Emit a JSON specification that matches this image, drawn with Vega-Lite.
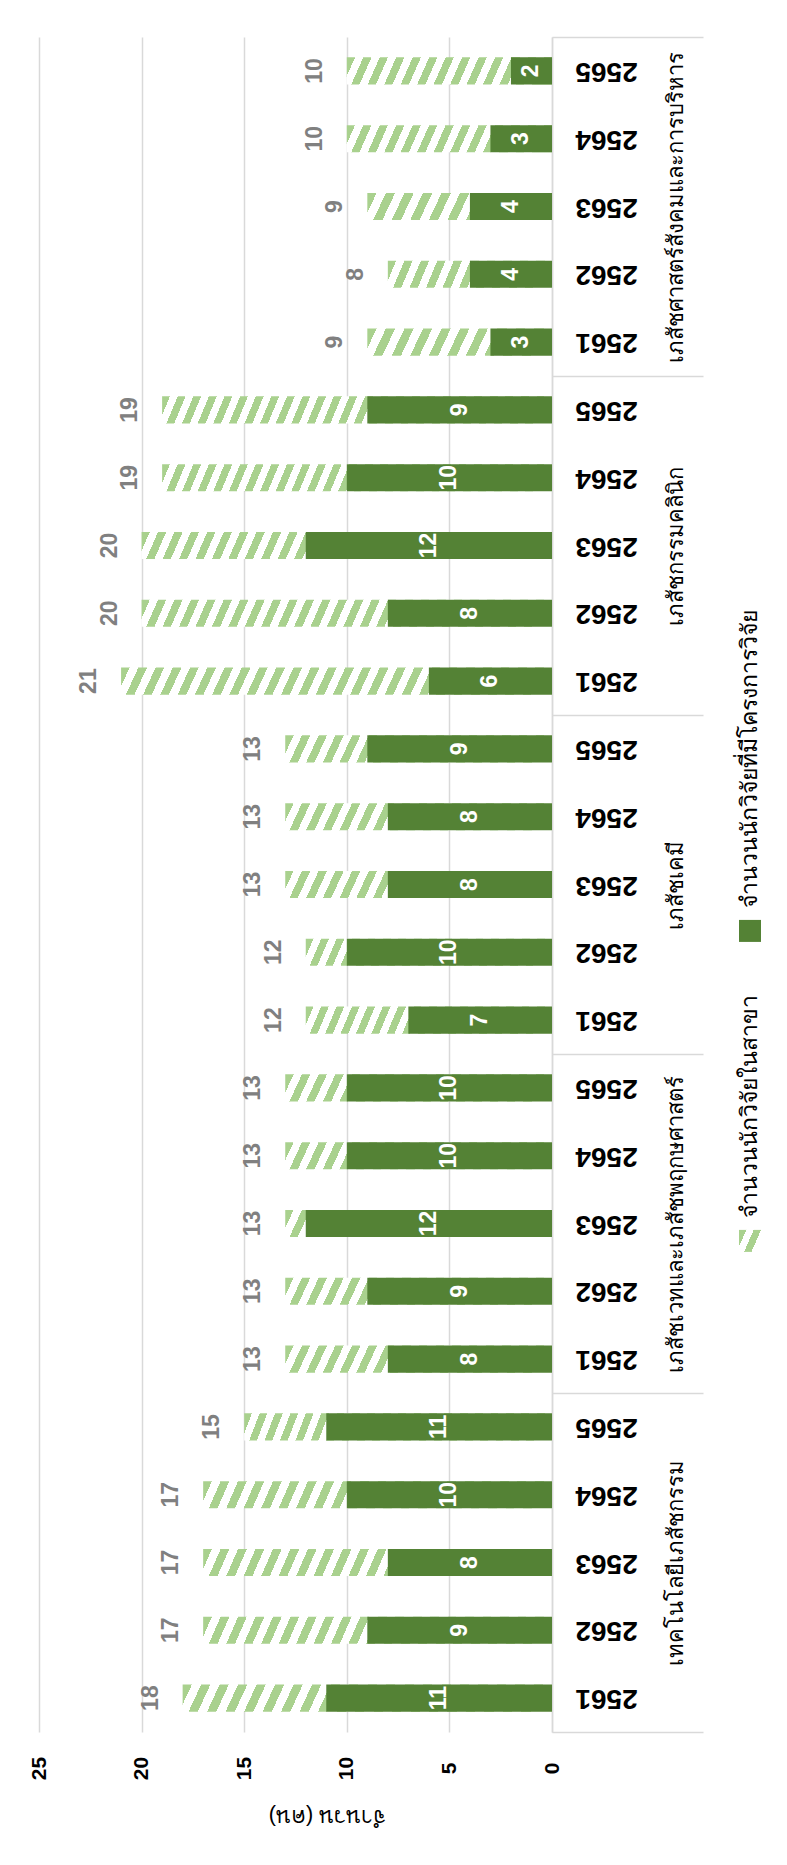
{
  "$schema": "https://vega.github.io/schema/vega-lite/v6.json",
  "background": "white",
  "padding": {"left": 27, "top": 36, "right": 0, "bottom": 30},
  "config": {"view": {"stroke": null}, "font": "Liberation Sans"},
  "spacing": 34,
  "hconcat": [
    {
      "width": 513,
      "height": 1695,
      "data": {
        "values": [
          {"key": "1|2561", "gi": 1, "group": "เทคโนโลยีเภสัชกรรม", "project": 11, "total": 18},
          {"key": "1|2562", "gi": 1, "group": "เทคโนโลยีเภสัชกรรม", "project": 9, "total": 17},
          {"key": "1|2563", "gi": 1, "group": "เทคโนโลยีเภสัชกรรม", "project": 8, "total": 17},
          {"key": "1|2564", "gi": 1, "group": "เทคโนโลยีเภสัชกรรม", "project": 10, "total": 17},
          {"key": "1|2565", "gi": 1, "group": "เทคโนโลยีเภสัชกรรม", "project": 11, "total": 15},
          {"key": "2|2561", "gi": 2, "group": "เภสัชเวทและเภสัชพฤกษศาสตร์", "project": 8, "total": 13},
          {"key": "2|2562", "gi": 2, "group": "เภสัชเวทและเภสัชพฤกษศาสตร์", "project": 9, "total": 13},
          {"key": "2|2563", "gi": 2, "group": "เภสัชเวทและเภสัชพฤกษศาสตร์", "project": 12, "total": 13},
          {"key": "2|2564", "gi": 2, "group": "เภสัชเวทและเภสัชพฤกษศาสตร์", "project": 10, "total": 13},
          {"key": "2|2565", "gi": 2, "group": "เภสัชเวทและเภสัชพฤกษศาสตร์", "project": 10, "total": 13},
          {"key": "3|2561", "gi": 3, "group": "เภสัชเคมี", "project": 7, "total": 12},
          {"key": "3|2562", "gi": 3, "group": "เภสัชเคมี", "project": 10, "total": 12},
          {"key": "3|2563", "gi": 3, "group": "เภสัชเคมี", "project": 8, "total": 13},
          {"key": "3|2564", "gi": 3, "group": "เภสัชเคมี", "project": 8, "total": 13},
          {"key": "3|2565", "gi": 3, "group": "เภสัชเคมี", "project": 9, "total": 13},
          {"key": "4|2561", "gi": 4, "group": "เภสัชกรรมคลินิก", "project": 6, "total": 21},
          {"key": "4|2562", "gi": 4, "group": "เภสัชกรรมคลินิก", "project": 8, "total": 20},
          {"key": "4|2563", "gi": 4, "group": "เภสัชกรรมคลินิก", "project": 12, "total": 20},
          {"key": "4|2564", "gi": 4, "group": "เภสัชกรรมคลินิก", "project": 10, "total": 19},
          {"key": "4|2565", "gi": 4, "group": "เภสัชกรรมคลินิก", "project": 9, "total": 19},
          {"key": "5|2561", "gi": 5, "group": "เภสัชศาสตร์สังคมและการบริหาร", "project": 3, "total": 9},
          {"key": "5|2562", "gi": 5, "group": "เภสัชศาสตร์สังคมและการบริหาร", "project": 4, "total": 8},
          {"key": "5|2563", "gi": 5, "group": "เภสัชศาสตร์สังคมและการบริหาร", "project": 4, "total": 9},
          {"key": "5|2564", "gi": 5, "group": "เภสัชศาสตร์สังคมและการบริหาร", "project": 3, "total": 10},
          {"key": "5|2565", "gi": 5, "group": "เภสัชศาสตร์สังคมและการบริหาร", "project": 2, "total": 10}
        ]
      },
      "transform": [{"calculate": "datum.project / 2", "as": "mid"}],
      "layer": [
        {
          "layer": [
            {
              "mark": {"type": "bar"},
              "encoding": {
                "y": {
                  "field": "key", "type": "nominal", "sort": "descending",
                  "scale": {"paddingInner": 0.6, "paddingOuter": 0.3},
                  "axis": {
                    "orient": "right", "title": null, "domain": true, "domainColor": "#d9d9d9", "domainWidth": 1.5,
                    "ticks": false, "tickSize": 0, "labelAngle": 180, "labelAlign": "center", "labelBaseline": "middle",
                    "labelPadding": 54, "labelFontSize": 28, "labelFontWeight": "bold", "labelColor": "#000000",
                    "labelExpr": "slice(datum.label, 2)", "labelOverlap": false, "grid": false
                  }
                },
                "x": {
                  "field": "total", "type": "quantitative", "title": "จำนวน (คน)",
                  "scale": {"domain": [0, 25], "reverse": true, "nice": false},
                  "axis": {
                    "orient": "bottom", "values": [0, 5, 10, 15, 20, 25], "grid": true, "gridColor": "#d9d9d9", "gridWidth": 1.5,
                    "domain": false, "ticks": false, "tickSize": 0, "labelAngle": 270, "labelAlign": "center", "labelBaseline": "middle",
                    "labelPadding": 36, "labelFontSize": 21, "labelFontWeight": "bold", "labelColor": "#000000",
                    "titleAngle": 180, "titleFontSize": 22, "titleFontWeight": "normal", "titleColor": "#000000",
                    "titleBaseline": "middle", "titleAlign": "center", "titleX": 288, "titleY": 84, "titleFont": "sans-serif"
                  }
                },
                "fill": {
                  "condition": [
                    {"test": "datum.total <= 9", "value": {"gradient": "linear", "x1": 0, "y1": 0, "x2": 1, "y2": 0.069, "stops": [
                      {"offset": 0, "color": "#a9d18e"}, {"offset": 0.05, "color": "#a9d18e"}, {"offset": 0.05, "color": "#ffffff"}, {"offset": 0.1, "color": "#ffffff"},
                      {"offset": 0.1, "color": "#a9d18e"}, {"offset": 0.15, "color": "#a9d18e"}, {"offset": 0.15, "color": "#ffffff"}, {"offset": 0.2, "color": "#ffffff"},
                      {"offset": 0.2, "color": "#a9d18e"}, {"offset": 0.25, "color": "#a9d18e"}, {"offset": 0.25, "color": "#ffffff"}, {"offset": 0.3, "color": "#ffffff"},
                      {"offset": 0.3, "color": "#a9d18e"}, {"offset": 0.35, "color": "#a9d18e"}, {"offset": 0.35, "color": "#ffffff"}, {"offset": 0.4, "color": "#ffffff"},
                      {"offset": 0.4, "color": "#a9d18e"}, {"offset": 0.45, "color": "#a9d18e"}, {"offset": 0.45, "color": "#ffffff"}, {"offset": 0.5, "color": "#ffffff"},
                      {"offset": 0.5, "color": "#a9d18e"}, {"offset": 0.55, "color": "#a9d18e"}, {"offset": 0.55, "color": "#ffffff"}, {"offset": 0.6, "color": "#ffffff"},
                      {"offset": 0.6, "color": "#a9d18e"}, {"offset": 0.65, "color": "#a9d18e"}, {"offset": 0.65, "color": "#ffffff"}, {"offset": 0.7, "color": "#ffffff"},
                      {"offset": 0.7, "color": "#a9d18e"}, {"offset": 0.75, "color": "#a9d18e"}, {"offset": 0.75, "color": "#ffffff"}, {"offset": 0.8, "color": "#ffffff"},
                      {"offset": 0.8, "color": "#a9d18e"}, {"offset": 0.85, "color": "#a9d18e"}, {"offset": 0.85, "color": "#ffffff"}, {"offset": 0.9, "color": "#ffffff"},
                      {"offset": 0.9, "color": "#a9d18e"}, {"offset": 0.95, "color": "#a9d18e"}, {"offset": 0.95, "color": "#ffffff"}, {"offset": 1, "color": "#ffffff"}
                    ]}},
                    {"test": "datum.total == 10", "value": {"gradient": "linear", "x1": 0, "y1": 0, "x2": 1, "y2": 0.0585, "stops": [
                      {"offset": 0, "color": "#a9d18e"}, {"offset": 0.04, "color": "#a9d18e"}, {"offset": 0.04, "color": "#ffffff"}, {"offset": 0.08, "color": "#ffffff"},
                      {"offset": 0.08, "color": "#a9d18e"}, {"offset": 0.12, "color": "#a9d18e"}, {"offset": 0.12, "color": "#ffffff"}, {"offset": 0.16, "color": "#ffffff"},
                      {"offset": 0.16, "color": "#a9d18e"}, {"offset": 0.2, "color": "#a9d18e"}, {"offset": 0.2, "color": "#ffffff"}, {"offset": 0.24, "color": "#ffffff"},
                      {"offset": 0.24, "color": "#a9d18e"}, {"offset": 0.28, "color": "#a9d18e"}, {"offset": 0.28, "color": "#ffffff"}, {"offset": 0.32, "color": "#ffffff"},
                      {"offset": 0.32, "color": "#a9d18e"}, {"offset": 0.36, "color": "#a9d18e"}, {"offset": 0.36, "color": "#ffffff"}, {"offset": 0.4, "color": "#ffffff"},
                      {"offset": 0.4, "color": "#a9d18e"}, {"offset": 0.44, "color": "#a9d18e"}, {"offset": 0.44, "color": "#ffffff"}, {"offset": 0.48, "color": "#ffffff"},
                      {"offset": 0.48, "color": "#a9d18e"}, {"offset": 0.52, "color": "#a9d18e"}, {"offset": 0.52, "color": "#ffffff"}, {"offset": 0.56, "color": "#ffffff"},
                      {"offset": 0.56, "color": "#a9d18e"}, {"offset": 0.6, "color": "#a9d18e"}, {"offset": 0.6, "color": "#ffffff"}, {"offset": 0.64, "color": "#ffffff"},
                      {"offset": 0.64, "color": "#a9d18e"}, {"offset": 0.68, "color": "#a9d18e"}, {"offset": 0.68, "color": "#ffffff"}, {"offset": 0.72, "color": "#ffffff"},
                      {"offset": 0.72, "color": "#a9d18e"}, {"offset": 0.76, "color": "#a9d18e"}, {"offset": 0.76, "color": "#ffffff"}, {"offset": 0.8, "color": "#ffffff"},
                      {"offset": 0.8, "color": "#a9d18e"}, {"offset": 0.84, "color": "#a9d18e"}, {"offset": 0.84, "color": "#ffffff"}, {"offset": 0.88, "color": "#ffffff"},
                      {"offset": 0.88, "color": "#a9d18e"}, {"offset": 0.92, "color": "#a9d18e"}, {"offset": 0.92, "color": "#ffffff"}, {"offset": 0.96, "color": "#ffffff"},
                      {"offset": 0.96, "color": "#a9d18e"}, {"offset": 1, "color": "#a9d18e"}
                    ]}},
                    {"test": "datum.total <= 13", "value": {"gradient": "linear", "x1": 0, "y1": 0, "x2": 1, "y2": 0.047, "stops": [
                      {"offset": 0, "color": "#a9d18e"}, {"offset": 0.03125, "color": "#a9d18e"}, {"offset": 0.03125, "color": "#ffffff"}, {"offset": 0.0625, "color": "#ffffff"},
                      {"offset": 0.0625, "color": "#a9d18e"}, {"offset": 0.09375, "color": "#a9d18e"}, {"offset": 0.09375, "color": "#ffffff"}, {"offset": 0.125, "color": "#ffffff"},
                      {"offset": 0.125, "color": "#a9d18e"}, {"offset": 0.15625, "color": "#a9d18e"}, {"offset": 0.15625, "color": "#ffffff"}, {"offset": 0.1875, "color": "#ffffff"},
                      {"offset": 0.1875, "color": "#a9d18e"}, {"offset": 0.21875, "color": "#a9d18e"}, {"offset": 0.21875, "color": "#ffffff"}, {"offset": 0.25, "color": "#ffffff"},
                      {"offset": 0.25, "color": "#a9d18e"}, {"offset": 0.28125, "color": "#a9d18e"}, {"offset": 0.28125, "color": "#ffffff"}, {"offset": 0.3125, "color": "#ffffff"},
                      {"offset": 0.3125, "color": "#a9d18e"}, {"offset": 0.34375, "color": "#a9d18e"}, {"offset": 0.34375, "color": "#ffffff"}, {"offset": 0.375, "color": "#ffffff"},
                      {"offset": 0.375, "color": "#a9d18e"}, {"offset": 0.40625, "color": "#a9d18e"}, {"offset": 0.40625, "color": "#ffffff"}, {"offset": 0.4375, "color": "#ffffff"},
                      {"offset": 0.4375, "color": "#a9d18e"}, {"offset": 0.46875, "color": "#a9d18e"}, {"offset": 0.46875, "color": "#ffffff"}, {"offset": 0.5, "color": "#ffffff"},
                      {"offset": 0.5, "color": "#a9d18e"}, {"offset": 0.53125, "color": "#a9d18e"}, {"offset": 0.53125, "color": "#ffffff"}, {"offset": 0.5625, "color": "#ffffff"},
                      {"offset": 0.5625, "color": "#a9d18e"}, {"offset": 0.59375, "color": "#a9d18e"}, {"offset": 0.59375, "color": "#ffffff"}, {"offset": 0.625, "color": "#ffffff"},
                      {"offset": 0.625, "color": "#a9d18e"}, {"offset": 0.65625, "color": "#a9d18e"}, {"offset": 0.65625, "color": "#ffffff"}, {"offset": 0.6875, "color": "#ffffff"},
                      {"offset": 0.6875, "color": "#a9d18e"}, {"offset": 0.71875, "color": "#a9d18e"}, {"offset": 0.71875, "color": "#ffffff"}, {"offset": 0.75, "color": "#ffffff"},
                      {"offset": 0.75, "color": "#a9d18e"}, {"offset": 0.78125, "color": "#a9d18e"}, {"offset": 0.78125, "color": "#ffffff"}, {"offset": 0.8125, "color": "#ffffff"},
                      {"offset": 0.8125, "color": "#a9d18e"}, {"offset": 0.84375, "color": "#a9d18e"}, {"offset": 0.84375, "color": "#ffffff"}, {"offset": 0.875, "color": "#ffffff"},
                      {"offset": 0.875, "color": "#a9d18e"}, {"offset": 0.90625, "color": "#a9d18e"}, {"offset": 0.90625, "color": "#ffffff"}, {"offset": 0.9375, "color": "#ffffff"},
                      {"offset": 0.9375, "color": "#a9d18e"}, {"offset": 0.96875, "color": "#a9d18e"}, {"offset": 0.96875, "color": "#ffffff"}, {"offset": 1, "color": "#ffffff"}
                    ]}},
                    {"test": "datum.total <= 18", "value": {"gradient": "linear", "x1": 0, "y1": 0, "x2": 1, "y2": 0.034, "stops": [
                      {"offset": 0, "color": "#a9d18e"}, {"offset": 0.025, "color": "#a9d18e"}, {"offset": 0.025, "color": "#ffffff"}, {"offset": 0.05, "color": "#ffffff"},
                      {"offset": 0.05, "color": "#a9d18e"}, {"offset": 0.075, "color": "#a9d18e"}, {"offset": 0.075, "color": "#ffffff"}, {"offset": 0.1, "color": "#ffffff"},
                      {"offset": 0.1, "color": "#a9d18e"}, {"offset": 0.125, "color": "#a9d18e"}, {"offset": 0.125, "color": "#ffffff"}, {"offset": 0.15, "color": "#ffffff"},
                      {"offset": 0.15, "color": "#a9d18e"}, {"offset": 0.175, "color": "#a9d18e"}, {"offset": 0.175, "color": "#ffffff"}, {"offset": 0.2, "color": "#ffffff"},
                      {"offset": 0.2, "color": "#a9d18e"}, {"offset": 0.225, "color": "#a9d18e"}, {"offset": 0.225, "color": "#ffffff"}, {"offset": 0.25, "color": "#ffffff"},
                      {"offset": 0.25, "color": "#a9d18e"}, {"offset": 0.275, "color": "#a9d18e"}, {"offset": 0.275, "color": "#ffffff"}, {"offset": 0.3, "color": "#ffffff"},
                      {"offset": 0.3, "color": "#a9d18e"}, {"offset": 0.325, "color": "#a9d18e"}, {"offset": 0.325, "color": "#ffffff"}, {"offset": 0.35, "color": "#ffffff"},
                      {"offset": 0.35, "color": "#a9d18e"}, {"offset": 0.375, "color": "#a9d18e"}, {"offset": 0.375, "color": "#ffffff"}, {"offset": 0.4, "color": "#ffffff"},
                      {"offset": 0.4, "color": "#a9d18e"}, {"offset": 0.425, "color": "#a9d18e"}, {"offset": 0.425, "color": "#ffffff"}, {"offset": 0.45, "color": "#ffffff"},
                      {"offset": 0.45, "color": "#a9d18e"}, {"offset": 0.475, "color": "#a9d18e"}, {"offset": 0.475, "color": "#ffffff"}, {"offset": 0.5, "color": "#ffffff"},
                      {"offset": 0.5, "color": "#a9d18e"}, {"offset": 0.525, "color": "#a9d18e"}, {"offset": 0.525, "color": "#ffffff"}, {"offset": 0.55, "color": "#ffffff"},
                      {"offset": 0.55, "color": "#a9d18e"}, {"offset": 0.575, "color": "#a9d18e"}, {"offset": 0.575, "color": "#ffffff"}, {"offset": 0.6, "color": "#ffffff"},
                      {"offset": 0.6, "color": "#a9d18e"}, {"offset": 0.625, "color": "#a9d18e"}, {"offset": 0.625, "color": "#ffffff"}, {"offset": 0.65, "color": "#ffffff"},
                      {"offset": 0.65, "color": "#a9d18e"}, {"offset": 0.675, "color": "#a9d18e"}, {"offset": 0.675, "color": "#ffffff"}, {"offset": 0.7, "color": "#ffffff"},
                      {"offset": 0.7, "color": "#a9d18e"}, {"offset": 0.725, "color": "#a9d18e"}, {"offset": 0.725, "color": "#ffffff"}, {"offset": 0.75, "color": "#ffffff"},
                      {"offset": 0.75, "color": "#a9d18e"}, {"offset": 0.775, "color": "#a9d18e"}, {"offset": 0.775, "color": "#ffffff"}, {"offset": 0.8, "color": "#ffffff"},
                      {"offset": 0.8, "color": "#a9d18e"}, {"offset": 0.825, "color": "#a9d18e"}, {"offset": 0.825, "color": "#ffffff"}, {"offset": 0.85, "color": "#ffffff"},
                      {"offset": 0.85, "color": "#a9d18e"}, {"offset": 0.875, "color": "#a9d18e"}, {"offset": 0.875, "color": "#ffffff"}, {"offset": 0.9, "color": "#ffffff"},
                      {"offset": 0.9, "color": "#a9d18e"}, {"offset": 0.925, "color": "#a9d18e"}, {"offset": 0.925, "color": "#ffffff"}, {"offset": 0.95, "color": "#ffffff"},
                      {"offset": 0.95, "color": "#a9d18e"}, {"offset": 0.975, "color": "#a9d18e"}, {"offset": 0.975, "color": "#ffffff"}, {"offset": 1, "color": "#ffffff"}
                    ]}}
                  ],
                  "value": {"gradient": "linear", "x1": 0, "y1": 0, "x2": 1, "y2": 0.029, "stops": [
                    {"offset": 0, "color": "#a9d18e"}, {"offset": 0.02, "color": "#a9d18e"}, {"offset": 0.02, "color": "#ffffff"}, {"offset": 0.04, "color": "#ffffff"},
                    {"offset": 0.04, "color": "#a9d18e"}, {"offset": 0.06, "color": "#a9d18e"}, {"offset": 0.06, "color": "#ffffff"}, {"offset": 0.08, "color": "#ffffff"},
                    {"offset": 0.08, "color": "#a9d18e"}, {"offset": 0.1, "color": "#a9d18e"}, {"offset": 0.1, "color": "#ffffff"}, {"offset": 0.12, "color": "#ffffff"},
                    {"offset": 0.12, "color": "#a9d18e"}, {"offset": 0.14, "color": "#a9d18e"}, {"offset": 0.14, "color": "#ffffff"}, {"offset": 0.16, "color": "#ffffff"},
                    {"offset": 0.16, "color": "#a9d18e"}, {"offset": 0.18, "color": "#a9d18e"}, {"offset": 0.18, "color": "#ffffff"}, {"offset": 0.2, "color": "#ffffff"},
                    {"offset": 0.2, "color": "#a9d18e"}, {"offset": 0.22, "color": "#a9d18e"}, {"offset": 0.22, "color": "#ffffff"}, {"offset": 0.24, "color": "#ffffff"},
                    {"offset": 0.24, "color": "#a9d18e"}, {"offset": 0.26, "color": "#a9d18e"}, {"offset": 0.26, "color": "#ffffff"}, {"offset": 0.28, "color": "#ffffff"},
                    {"offset": 0.28, "color": "#a9d18e"}, {"offset": 0.3, "color": "#a9d18e"}, {"offset": 0.3, "color": "#ffffff"}, {"offset": 0.32, "color": "#ffffff"},
                    {"offset": 0.32, "color": "#a9d18e"}, {"offset": 0.34, "color": "#a9d18e"}, {"offset": 0.34, "color": "#ffffff"}, {"offset": 0.36, "color": "#ffffff"},
                    {"offset": 0.36, "color": "#a9d18e"}, {"offset": 0.38, "color": "#a9d18e"}, {"offset": 0.38, "color": "#ffffff"}, {"offset": 0.4, "color": "#ffffff"},
                    {"offset": 0.4, "color": "#a9d18e"}, {"offset": 0.42, "color": "#a9d18e"}, {"offset": 0.42, "color": "#ffffff"}, {"offset": 0.44, "color": "#ffffff"},
                    {"offset": 0.44, "color": "#a9d18e"}, {"offset": 0.46, "color": "#a9d18e"}, {"offset": 0.46, "color": "#ffffff"}, {"offset": 0.48, "color": "#ffffff"},
                    {"offset": 0.48, "color": "#a9d18e"}, {"offset": 0.5, "color": "#a9d18e"}, {"offset": 0.5, "color": "#ffffff"}, {"offset": 0.52, "color": "#ffffff"},
                    {"offset": 0.52, "color": "#a9d18e"}, {"offset": 0.54, "color": "#a9d18e"}, {"offset": 0.54, "color": "#ffffff"}, {"offset": 0.56, "color": "#ffffff"},
                    {"offset": 0.56, "color": "#a9d18e"}, {"offset": 0.58, "color": "#a9d18e"}, {"offset": 0.58, "color": "#ffffff"}, {"offset": 0.6, "color": "#ffffff"},
                    {"offset": 0.6, "color": "#a9d18e"}, {"offset": 0.62, "color": "#a9d18e"}, {"offset": 0.62, "color": "#ffffff"}, {"offset": 0.64, "color": "#ffffff"},
                    {"offset": 0.64, "color": "#a9d18e"}, {"offset": 0.66, "color": "#a9d18e"}, {"offset": 0.66, "color": "#ffffff"}, {"offset": 0.68, "color": "#ffffff"},
                    {"offset": 0.68, "color": "#a9d18e"}, {"offset": 0.7, "color": "#a9d18e"}, {"offset": 0.7, "color": "#ffffff"}, {"offset": 0.72, "color": "#ffffff"},
                    {"offset": 0.72, "color": "#a9d18e"}, {"offset": 0.74, "color": "#a9d18e"}, {"offset": 0.74, "color": "#ffffff"}, {"offset": 0.76, "color": "#ffffff"},
                    {"offset": 0.76, "color": "#a9d18e"}, {"offset": 0.78, "color": "#a9d18e"}, {"offset": 0.78, "color": "#ffffff"}, {"offset": 0.8, "color": "#ffffff"},
                    {"offset": 0.8, "color": "#a9d18e"}, {"offset": 0.82, "color": "#a9d18e"}, {"offset": 0.82, "color": "#ffffff"}, {"offset": 0.84, "color": "#ffffff"},
                    {"offset": 0.84, "color": "#a9d18e"}, {"offset": 0.86, "color": "#a9d18e"}, {"offset": 0.86, "color": "#ffffff"}, {"offset": 0.88, "color": "#ffffff"},
                    {"offset": 0.88, "color": "#a9d18e"}, {"offset": 0.9, "color": "#a9d18e"}, {"offset": 0.9, "color": "#ffffff"}, {"offset": 0.92, "color": "#ffffff"},
                    {"offset": 0.92, "color": "#a9d18e"}, {"offset": 0.94, "color": "#a9d18e"}, {"offset": 0.94, "color": "#ffffff"}, {"offset": 0.96, "color": "#ffffff"},
                    {"offset": 0.96, "color": "#a9d18e"}, {"offset": 0.98, "color": "#a9d18e"}, {"offset": 0.98, "color": "#ffffff"}, {"offset": 1, "color": "#ffffff"}
                  ]}
                }
              }
            },
            {
              "mark": {"type": "bar", "color": "#548235"},
              "encoding": {
                "y": {"field": "key", "type": "nominal", "sort": "descending"},
                "x": {"field": "project", "type": "quantitative", "title": "จำนวน (คน)"}
              }
            },
            {
              "mark": {"type": "text", "angle": 270, "align": "center", "baseline": "middle", "dy": -32, "fontSize": 23, "fontWeight": "bold", "color": "#808080"},
              "encoding": {
                "y": {"field": "key", "type": "nominal", "sort": "descending"},
                "x": {"field": "total", "type": "quantitative", "title": "จำนวน (คน)"},
                "text": {"field": "total", "type": "quantitative"}
              }
            },
            {
              "mark": {"type": "text", "angle": 270, "align": "center", "baseline": "middle", "fontSize": 23, "fontWeight": "bold", "color": "#ffffff"},
              "encoding": {
                "y": {"field": "key", "type": "nominal", "sort": "descending"},
                "x": {"field": "mid", "type": "quantitative", "title": "จำนวน (คน)"},
                "text": {"field": "project", "type": "quantitative"}
              }
            }
          ]
        },
        {
          "mark": {"type": "point", "opacity": 0},
          "encoding": {
            "y": {
              "field": "group", "type": "nominal",
              "sort": {"field": "gi", "op": "min", "order": "descending"},
              "scale": {"type": "band", "paddingInner": 0, "paddingOuter": 0},
              "axis": {
                "orient": "right", "offset": 151, "title": null, "domain": false, "ticks": true, "tickBand": "extent",
                "tickSize": -151, "tickColor": "#d9d9d9", "tickWidth": 1.5, "labelAngle": 270, "labelAlign": "center",
                "labelBaseline": "middle", "labelPadding": 123, "labelFontSize": 22, "labelColor": "#000000",
                "labelLimit": 1000, "labelFont": "sans-serif", "grid": false, "labelOverlap": false
              }
            }
          }
        }
      ],
      "resolve": {"scale": {"y": "independent"}, "axis": {"y": "independent"}}
    },
    {
      "width": 22,
      "height": 1695,
      "data": {
        "values": [
          {"s": "project", "label": "จำนวนนักวิจัยที่มีโครงการวิจัย"},
          {"s": "total", "label": "จำนวนนักวิจัยในสาขา"}
        ]
      },
      "layer": [
        {
          "mark": {"type": "point", "shape": "square", "size": 484, "filled": true, "opacity": 1, "strokeWidth": 0},
          "encoding": {
            "y": {"field": "s", "type": "nominal", "scale": {"type": "point", "domain": ["pad0", "pad1", "project", "total", "pad4"], "padding": 0.734, "align": 0.602}, "axis": null},
            "fill": {
              "condition": {"test": "datum.s == 'project'", "value": "#548235"},
              "value": {"gradient": "linear", "x1": 0, "y1": 0, "x2": 1, "y2": 0.44, "stops": [
                {"offset": 0, "color": "#a9d18e"}, {"offset": 0.28, "color": "#a9d18e"}, {"offset": 0.28, "color": "#ffffff"}, {"offset": 0.56, "color": "#ffffff"},
                {"offset": 0.56, "color": "#a9d18e"}, {"offset": 0.84, "color": "#a9d18e"}, {"offset": 0.84, "color": "#ffffff"}, {"offset": 1, "color": "#ffffff"}
              ]}
            }
          }
        },
        {
          "mark": {"type": "text", "angle": 270, "align": "left", "baseline": "middle", "dx": 23, "fontSize": 23, "color": "#000000", "font": "sans-serif"},
          "encoding": {
            "y": {"field": "s", "type": "nominal"},
            "text": {"field": "label"}
          }
        }
      ]
    }
  ]
}
